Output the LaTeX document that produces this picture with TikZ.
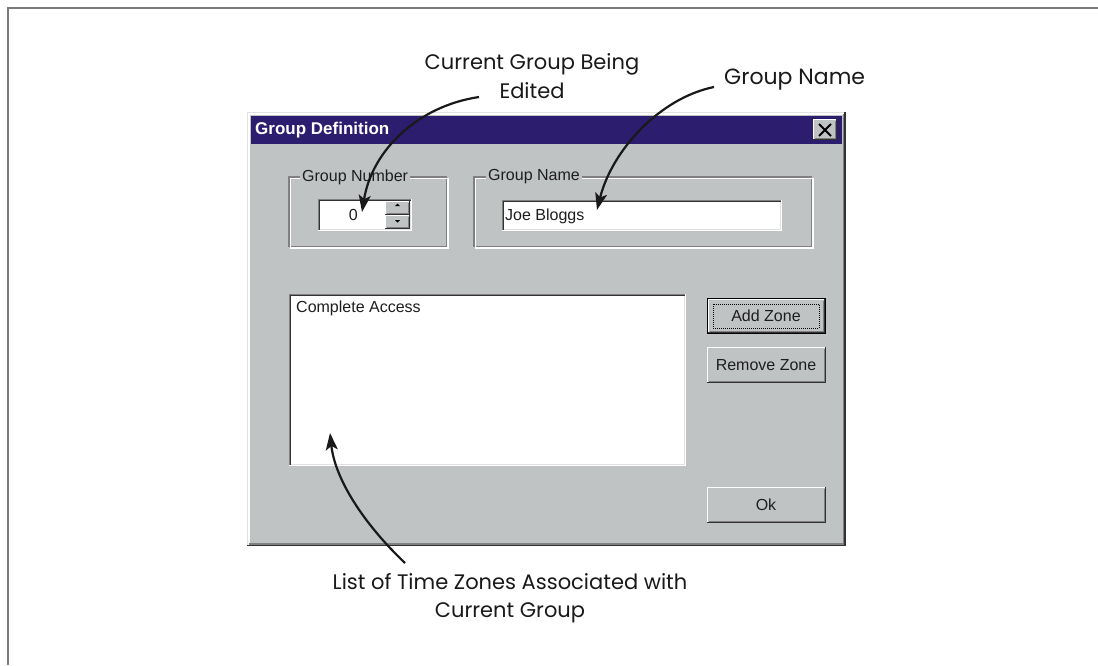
\documentclass[tikz,border=0pt]{standalone}
\usepackage{fontspec}
\setmainfont{Liberation Sans}
\newfontfamily\annfont{Poppins}
\usetikzlibrary{arrows.meta}
\definecolor{wingray}{RGB}{192,195,195}
\definecolor{winshadow}{RGB}{128,128,128}
\definecolor{windark}{RGB}{50,50,50}
\definecolor{winlight}{RGB}{225,225,225}
\definecolor{titleblue}{RGB}{44,29,110}
\definecolor{framegray}{RGB}{125,122,122}
\definecolor{uitext}{RGB}{30,30,30}
\newcommand{\sunkbox}[4]{%
  \fill[white] (#1,#2) rectangle (#3,#4);
  \draw[winshadow,line width=1.2pt] (#1+0.5,#4) -- (#1+0.5,#2+0.5) -- (#3,#2+0.5);
  \draw[windark,line width=1.2pt] (#1+1.7,#4-1) -- (#1+1.7,#2+1.7) -- (#3-1,#2+1.7);
  \draw[white,line width=1.2pt] (#1,#4-0.5) -- (#3-0.5,#4-0.5) -- (#3-0.5,#2);
  \draw[winlight,line width=1.2pt] (#1+1.5,#4-1.7) -- (#3-1.7,#4-1.7) -- (#3-1.7,#2+1.5);
}
\newcommand{\upbox}[4]{%
  \fill[wingray] (#1,#2) rectangle (#3,#4);
  \draw[white,line width=1.2pt] (#1+0.5,#4) -- (#1+0.5,#2+0.5) -- (#3,#2+0.5);
  \draw[windark,line width=1.2pt] (#1,#4-0.5) -- (#3-0.5,#4-0.5) -- (#3-0.5,#2);
  \draw[winshadow,line width=1.2pt] (#1+1.5,#4-1.7) -- (#3-1.7,#4-1.7) -- (#3-1.7,#2+1.5);
}
\newcommand{\etchbox}[4]{%
  \draw[winshadow,line width=1.2pt] (#1,#2) rectangle (#3-1.2,#4-1.2);
  \draw[white,line width=1.2pt] (#1+1.2,#2+1.2) rectangle (#3,#4);
}
\tikzset{
  uilabel/.style={font=\fontsize{16}{18}\selectfont, text=uitext, inner sep=0pt},
  grouplabel/.style={uilabel, fill=wingray, inner xsep=2pt, inner ysep=1pt, anchor=west},
  ann/.style={font=\annfont\fontsize{21}{28.5}\selectfont, text=black!90, align=center, inner sep=0pt},
  annarrow/.style={line width=2.2pt, black!90, -{Stealth[length=17pt,width=12pt,inset=4pt]}},
}
\begin{document}
\begin{tikzpicture}[x=1pt,y=-1pt]
\useasboundingbox (0,0) rectangle (1098,665);
\draw[framegray,line width=2pt] (8,665) -- (8,8) -- (1098,8);

% dialog
\fill[wingray] (247,112) rectangle (845,546);
\draw[winlight,line width=1.2pt] (247.5,546) -- (247.5,112.5) -- (845,112.5);
\draw[white,line width=1.2pt] (249,545) -- (249,114) -- (844,114);
\draw[windark,line width=1.5pt] (247,545.5) -- (845,545.5) -- (845,112);
\draw[winshadow,line width=1.2pt] (249,544) -- (843.5,544) -- (843.5,114);
\fill[titleblue] (251,115.5) rectangle (842,144);
\node[font=\bfseries\fontsize{17}{18}\selectfont, text=white, anchor=west, inner sep=0pt] (title) at (255,130) {Group Definition};
\upbox{813}{119}{837}{140}
\draw[black,line width=2pt] (819,124) -- (831,136) (831,124) -- (819,136);
\node[inner sep=0pt] (closebtn) at (825,130) {};

% group number box
\etchbox{289}{177}{448}{248}
\node[grouplabel] (gnlabel) at (300,177) {Group Number};
\sunkbox{318}{199}{412}{231}
\node[uilabel, anchor=east] (gnvalue) at (358,215) {0};
\upbox{385}{201}{410}{215}
\upbox{385}{215}{410}{229}
\fill[black] (395,206) -- (400,206) -- (397.5,203.5) -- cycle;
\fill[black] (395,220) -- (400,220) -- (397.5,222.5) -- cycle;

% group name box
\etchbox{474}{177}{813}{248}
\node[grouplabel] (gnamelabel) at (486,177) {Group Name};
\sunkbox{502}{200}{782}{231}
\node[uilabel, anchor=west] (gname) at (505,216) {Joe Bloggs};

% list box
\sunkbox{289}{294}{686}{466}
\node[uilabel, anchor=west] (listitem) at (296,308) {Complete Access};

% buttons
\fill[black] (707,298) rectangle (826,334);
\upbox{708.2}{299.2}{824.8}{332.8}
\draw[black,line width=0.9pt,dash pattern=on 1pt off 1pt] (713,304) rectangle (819,328);
\node[uilabel] (addzone) at (766,316) {Add Zone};
\upbox{707}{347}{826}{383}
\node[uilabel] (removezone) at (766,365) {Remove Zone};
\upbox{707}{487}{826}{523}
\node[uilabel] (okbtn) at (766,505) {Ok};

% annotations
\node[ann] (annedit) at (532,76) {Current Group Being\\Edited};
\node[ann, anchor=west, font=\annfont\fontsize{22}{26}\selectfont] (annname) at (724,80) {Group Name};
\node[ann] (annlist) at (510,598) {List of Time Zones Associated with\\Current Group};

\coordinate (tipnum) at (362,212);
\coordinate (tipname) at (597,210);
\coordinate (tiplist) at (330,433);
\coordinate (srcedit) at (479,97);
\coordinate (srcname) at (714,87);
\coordinate (srclist) at (405,563);

\draw[annarrow] (srcedit) .. controls (418,106) and (372,150) .. (tipnum);
\draw[annarrow] (srcname) .. controls (660,98) and (612,150) .. (tipname);
\draw[annarrow] (srclist) .. controls (365,525) and (335,480) .. (tiplist);
\end{tikzpicture}
\end{document}
